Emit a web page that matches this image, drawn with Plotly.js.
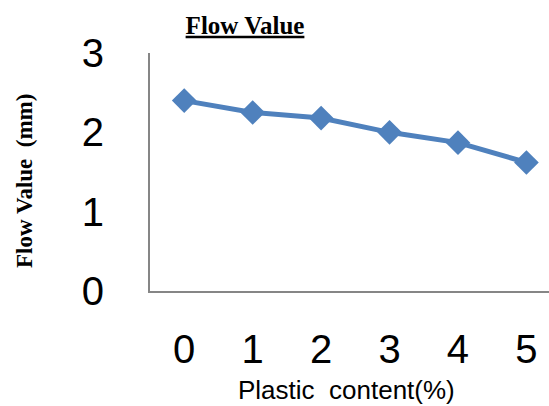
<!DOCTYPE html>
<html>
<head>
<meta charset="utf-8">
<script src="https://cdn.plot.ly/plotly-3.0.1.min.js"></script>
<style>html,body{margin:0;padding:0;background:#fff;}#chart{width:549px;height:406px;}</style>
</head>
<body>
<div id="chart"></div>
<script>
const plasticContent = [0, 1, 2, 3, 4, 5];
const flowValue = [2.40, 2.25, 2.18, 2.00, 1.87, 1.62];
const xTickLabels = ['0', '1', '2', '3', '4', '5'];
const yTickValues = [0, 1, 2, 3];

const trace = {
  x: plasticContent,
  y: flowValue,
  type: 'scatter',
  mode: 'lines+markers',
  line: {color: '#4F81BD', width: 5},
  marker: {symbol: 'diamond', size: 19, color: '#4F81BD'},
  cliponaxis: false,
  hoverinfo: 'skip'
};

const layout = {
  width: 549,
  height: 406,
  margin: {l: 150, r: 0, t: 53, b: 115},
  paper_bgcolor: '#fff',
  plot_bgcolor: '#fff',
  showlegend: false,
  title: {
    text: '<u>Flow Value</u>',
    font: {family: 'Liberation Serif, Times New Roman, serif', size: 25, color: '#000', weight: 'bold'},
    x: 245 / 549, xanchor: 'center', xref: 'container',
    y: 1 - 25 / 406, yanchor: 'middle', yref: 'container'
  },
  xaxis: {
    range: [-0.5, 5.33],
    tickvals: plasticContent,
    ticktext: xTickLabels,
    showgrid: false,
    zeroline: false,
    showline: true,
    linecolor: '#868686',
    linewidth: 2,
    ticks: '',
    ticklabelstandoff: 22,
    tickfont: {family: 'Liberation Sans, sans-serif', size: 40, color: '#000'},
    fixedrange: true
  },
  yaxis: {
    range: [0, 3],
    tickvals: yTickValues,
    showgrid: false,
    zeroline: false,
    showline: true,
    linecolor: '#868686',
    linewidth: 2,
    ticks: '',
    ticklabelstandoff: 36,
    tickfont: {family: 'Liberation Sans, sans-serif', size: 40, color: '#000'},
    fixedrange: true
  },
  annotations: [
    {
      text: 'Plastic  content(%)',
      font: {family: 'Liberation Sans, sans-serif', size: 26, color: '#000'},
      xref: 'paper', yref: 'paper',
      x: (346 - 150) / 399, y: -(390 - 291) / 238,
      xanchor: 'center', yanchor: 'middle',
      showarrow: false
    },
    {
      text: '<b>Flow Value  (mm)</b>',
      font: {family: 'Liberation Serif, Times New Roman, serif', size: 23, color: '#000'},
      textangle: -90,
      xref: 'paper', yref: 'paper',
      x: -(150 - 24) / 399, y: (291 - 181) / 238,
      xanchor: 'center', yanchor: 'middle',
      showarrow: false
    }
  ]
};

Plotly.newPlot('chart', [trace], layout, {displayModeBar: false, staticPlot: true});
</script>
</body>
</html>
